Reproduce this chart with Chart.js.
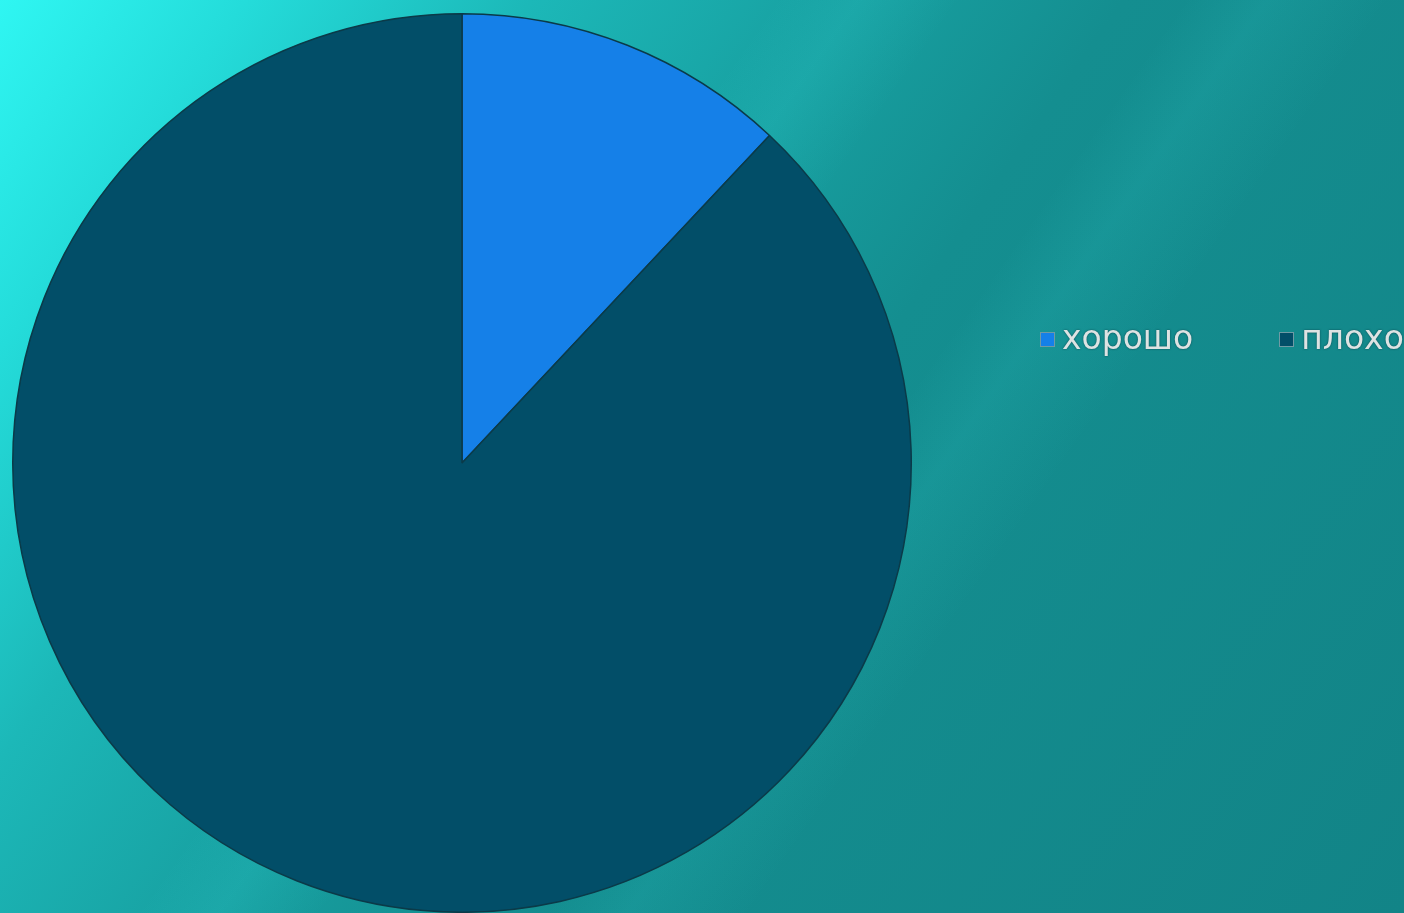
<!DOCTYPE html>
<html lang="ru">
<head>
    <meta charset="UTF-8">
    <title>хорошо / плохо</title>
    <script src="https://cdn.jsdelivr.net/npm/chart.js@4.4.1/dist/chart.umd.min.js"></script>
    <style>
        html, body { margin: 0; padding: 0; }
        body {
            width: 1404px; height: 913px; overflow: hidden; position: relative;
            background:
                linear-gradient(125deg, rgba(60,230,230,0) 0%, rgba(60,230,230,0) 58%, rgba(60,230,230,0.10) 62%, rgba(60,230,230,0) 68%, rgba(60,230,230,0) 100%),
                linear-gradient(125deg, rgba(60,230,230,0) 0%, rgba(60,230,230,0) 38%, rgba(60,230,230,0.12) 42%, rgba(60,230,230,0) 47%),
                linear-gradient(125deg, #2ff6f2 0%, #24dcda 12%, #1cb8b8 26%, #18a2a3 40%, #148e90 55%, #128487 100%);
        }
        #chart { position: absolute; left: 0; top: 0; }
        #legend {
            position: absolute; left: 1040px; top: 318px;
            display: flex; white-space: nowrap;
            font-family: "DejaVu Sans", sans-serif; font-size: 33px;
            color: #dde3e3; text-shadow: 0 0 2px rgba(0,40,50,0.7);
        }
        #legend .item { display: flex; align-items: center; margin-right: 86px; }
        #legend .box {
            width: 15px; height: 15px; margin-right: 7px; margin-top: 3px;
            border: 1px solid #6f9aa4; box-sizing: border-box;
        }
    </style>
</head>
<body>
    <canvas id="chart" width="1404" height="913"></canvas>
    <div id="legend"></div>

    <script>
        const labels = ['хорошо', 'плохо'];
        const values = [12, 88];
        const colors = ['#1580e8', '#024e68'];

        const ctx = document.getElementById('chart').getContext('2d');
        const myChart = new Chart(ctx, {
            type: 'pie',
            data: {
                labels: labels,
                datasets: [{
                    data: values,
                    backgroundColor: colors,
                    borderColor: '#0b3a48',
                    borderWidth: 1.5
                }]
            },
            options: {
                responsive: false,
                animation: false,
                layout: { padding: { left: 12, top: 13, right: 492, bottom: 0 } },
                plugins: {
                    legend: { display: false },
                    tooltip: { enabled: false }
                }
            }
        });

        // html legend built from the same labels/colors
        const legend = document.getElementById('legend');
        labels.forEach((label, i) => {
            const item = document.createElement('div');
            item.className = 'item';
            const box = document.createElement('span');
            box.className = 'box';
            box.style.background = colors[i];
            item.appendChild(box);
            item.appendChild(document.createTextNode(label));
            legend.appendChild(item);
        });
    </script>
</body>
</html>
